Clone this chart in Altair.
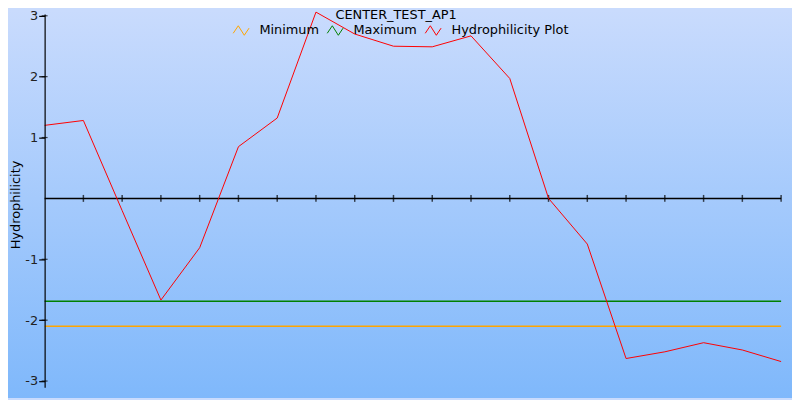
import altair as alt
import pandas as pd

# ---- data ----
residue_index = list(range(20))
hydrophilicity = [1.20, 1.28, -0.20, -1.67, -0.81, 0.85, 1.32, 3.06, 2.70, 2.50,
                  2.49, 2.67, 1.97, 0.00, -0.75, -2.63, -2.52, -2.37, -2.49, -2.68]
minimum_value = -2.10
maximum_value = -1.69
series_names = ["Minimum", "Maximum", "Hydrophilicity Plot"]
series_colors = ["#ffa500", "#008000", "#ff0000"]
y_tick_values = [3, 2, 1, -1, -2, -3]
x_tick_positions = residue_index[1:]

FONT = "DejaVu Sans"
W, H = 744, 377

hydro_df = pd.DataFrame({"idx": residue_index, "value": hydrophilicity,
                         "series": "Hydrophilicity Plot"})
limits_df = pd.DataFrame({
    "idx": [residue_index[0], residue_index[-1], residue_index[0], residue_index[-1]],
    "value": [minimum_value, minimum_value, maximum_value, maximum_value],
    "series": ["Minimum", "Minimum", "Maximum", "Maximum"],
})
ticks_df = pd.DataFrame({"idx": x_tick_positions, "value": 0.0})
axis_df = pd.DataFrame({"idx": [residue_index[0]], "idx2": [residue_index[-1]], "value": [0.0]})
yticks_df = pd.DataFrame({"value": y_tick_values})
bg_df = pd.DataFrame({"bg": [0]})

xs = alt.Scale(domain=[residue_index[0], residue_index[-1]], nice=False, zero=False)
ys = alt.Scale(domain=[-3.1, 3.03], nice=False, zero=False)
cs = alt.Scale(domain=series_names, range=series_colors)

zigzag = "M-1,0.35L-0.36,-0.6L0.4,0.6L1,-0.3"

legend = alt.Legend(
    title=None, orient="none", direction="horizontal",
    legendX=190, legendY=8,
    symbolType=zigzag, symbolSize=256, symbolStrokeWidth=1,
    symbolFillColor="transparent",
    labelFont=FONT, labelFontSize=13, labelColor="#000000",
    labelOffset=10, columnPadding=5,
)

y_axis = alt.Axis(
    title="Hydrophilicity", values=y_tick_values, grid=False, zindex=1,
    labelExpr="toString(datum.value)",
    domainColor="#000000", domainWidth=1.2,
    tickColor="#000000", tickSize=6, tickWidth=1.2,
    labelFont=FONT, labelFontSize=13, labelColor="#222222", labelPadding=1,
    titleFont=FONT, titleFontSize=13, titleFontWeight="normal", titleColor="#000000",
    titleX=-29, titleY=H / 2 + 4, titleAngle=270, titleAlign="center",
    titleBaseline="middle",
)

background = alt.Chart(bg_df).mark_rect(
    fill=alt.Gradient(gradient="linear",
                      stops=[alt.GradientStop(color="#c9dbfd", offset=0),
                             alt.GradientStop(color="#7fb8fb", offset=1)],
                      x1=0, x2=0, y1=0, y2=1),
    stroke=None,
).encode(x=alt.value(-37), x2=alt.value(W + 11), y=alt.value(-4), y2=alt.value(H + 11))

limits = alt.Chart(limits_df).mark_line(strokeWidth=1.6).encode(
    x=alt.X("idx:Q", scale=xs, axis=None),
    y=alt.Y("value:Q", scale=ys, axis=y_axis),
    color=alt.Color("series:N", scale=cs, legend=legend),
    detail="series:N",
)

zero_axis = alt.Chart(axis_df).mark_rule(color="#000000", strokeWidth=1.5).encode(
    x=alt.X("idx:Q", scale=xs, axis=None), x2="idx2:Q",
    y=alt.Y("value:Q", scale=ys, axis=y_axis),
)

zero_ticks = alt.Chart(ticks_df).mark_tick(
    color="#000000", orient="vertical", size=7, thickness=1.5
).encode(
    x=alt.X("idx:Q", scale=xs, axis=None),
    y=alt.Y("value:Q", scale=ys, axis=y_axis),
)

y_inner_ticks = alt.Chart(yticks_df).mark_tick(
    color="#000000", orient="horizontal", size=6, thickness=1.2
).encode(
    x=alt.value(0),
    y=alt.Y("value:Q", scale=ys, axis=y_axis),
)

hydro = alt.Chart(hydro_df).mark_line(strokeWidth=1).encode(
    x=alt.X("idx:Q", scale=xs, axis=None),
    y=alt.Y("value:Q", scale=ys, axis=y_axis),
    color=alt.Color("series:N", scale=cs, legend=legend),
)

chart = alt.layer(background, limits, zero_axis, zero_ticks, y_inner_ticks, hydro).properties(
    width=W, height=H,
    title=alt.TitleParams(text="CENTER_TEST_AP1", anchor="middle", dx=-17, offset=-12,
                          font=FONT, fontSize=13, fontWeight="normal", color="#000000"),
    autosize=alt.AutoSizeParams(type="none"),
    padding={"left": 37, "top": 4, "right": 11, "bottom": 11},
).configure_view(stroke=None).configure(background="#c9dbfd")

chart.save("out.html", embed_options={"renderer": "svg", "actions": False})
